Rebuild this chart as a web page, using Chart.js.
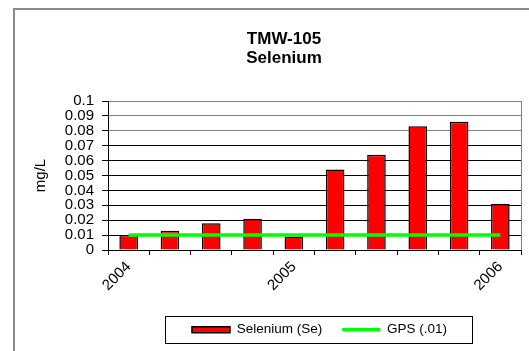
<!DOCTYPE html>
<html><head><meta charset="utf-8">
<script src="https://cdn.jsdelivr.net/npm/chart.js@4/dist/chart.umd.min.js"></script>
<style>
html,body{margin:0;padding:0;background:#fff;overflow:hidden;}
#wrap{position:relative;width:529px;height:351px;overflow:hidden;}
#frame{position:absolute;left:13px;top:8px;width:600px;height:400px;border:2px solid #8a8a8a;box-sizing:border-box;}
canvas{position:absolute;left:0;top:0;}
</style></head><body>
<div id="wrap"><div id="frame"></div><canvas id="c" width="529" height="351"></canvas></div>
<script>
const titleLines = ['TMW-105', 'Selenium'];
const categories = ['2004', '', '', '', '2005', '', '', '', '', '2006'];
const seleniumValues = [0.010, 0.013, 0.018, 0.021, 0.009, 0.054, 0.064, 0.083, 0.086, 0.031];
const gpsValues = [0.01, 0.01, 0.01, 0.01, 0.01, 0.01, 0.01, 0.01, 0.01, 0.01];
const seriesNames = ['Selenium (Se)', 'GPS (.01)'];
const yTickLabels = ['0', '0.01', '0.02', '0.03', '0.04', '0.05', '0.06', '0.07', '0.08', '0.09', '0.1'];
const yAxisTitle = 'mg/L';

Chart.defaults.font.family = "'Liberation Sans', Arial, sans-serif";
Chart.defaults.color = '#000';

const tweaks = {
  id: 'tweaks',
  beforeLayout(chart) {
    const lg = chart.legend;
    if (lg && !lg._patched) {
      const orig = lg.fit.bind(lg);
      lg.fit = function () { orig(); this.height = 48; };
      lg._patched = true;
    }
  },
  afterLayout(chart) {
    const lg = chart.legend;
    const sL = 319.5 - (lg.left + lg.right) / 2;
    lg.left += sL; lg.right += sL;
    const t = chart.titleBlock;
    const sT = 284 - (t.left + t.right) / 2;
    t.left += sT; t.right += sT;
  },
  beforeDatasetsDraw(chart) {
    const {ctx, chartArea: a} = chart;
    ctx.save();
    ctx.strokeStyle = '#808080';
    ctx.lineWidth = 1;
    ctx.beginPath();
    ctx.moveTo(Math.round(a.right) + 0.5, a.top);
    ctx.lineTo(Math.round(a.right) + 0.5, a.bottom);
    ctx.stroke();
    ctx.restore();
  },
  afterDraw(chart) {
    const lg = chart.legend;
    const hb = lg.legendHitBoxes;
    if (!hb || !hb.length) return;
    const first = hb[0], last = hb[hb.length - 1];
    const cy = first.top + first.height / 2;
    const x0 = Math.round(first.left - 27) + 0.5;
    const x1 = Math.round(last.left + last.width + 25) + 0.5;
    const y0 = Math.round(cy - 14) + 0.5;
    const y1 = Math.round(cy + 13) + 0.5;
    const ctx = chart.ctx;
    ctx.save();
    ctx.strokeStyle = '#000';
    ctx.lineWidth = 1;
    ctx.strokeRect(x0, y0, x1 - x0, y1 - y0);
    ctx.restore();
  }
};

new Chart(document.getElementById('c'), {
  data: {
    labels: categories,
    datasets: [
      {
        type: 'bar',
        label: seriesNames[0],
        data: seleniumValues,
        backgroundColor: '#ff0000',
        borderColor: '#000000',
        borderWidth: 1.5,
        barPercentage: 1,
        categoryPercentage: 0.45,
        pointStyle: 'rect',
        order: 1
      },
      {
        type: 'line',
        label: seriesNames[1],
        data: gpsValues,
        borderColor: '#00ff00',
        backgroundColor: '#00ff00',
        borderWidth: 3.5,
        pointRadius: 0,
        pointStyle: 'line',
        tension: 0,
        order: 0
      }
    ]
  },
  options: {
    responsive: false,
    animation: false,
    devicePixelRatio: 1,
    layout: {padding: {left: 14, right: 8, top: 0, bottom: 0}},
    plugins: {
      tooltip: {enabled: false},
      title: {
        display: true,
        text: titleLines,
        font: {size: 17, weight: 'bold', lineHeight: 1.1},
        color: '#000',
        padding: {top: 30, bottom: 33.6}
      },
      legend: {
        position: 'bottom',
        labels: {
          usePointStyle: true,
          pointStyleWidth: 38,
          boxHeight: 6,
          padding: 20,
          font: {size: 13.5},
          color: '#000',
          sort: (a, b) => a.datasetIndex - b.datasetIndex
        }
      }
    },
    scales: {
      x: {
        type: 'category',
        offset: true,
        grid: {offset: true, drawOnChartArea: false, tickLength: 5, color: '#000', tickColor: '#000'},
        border: {color: '#000', width: 1},
        ticks: {autoSkip: false, maxRotation: 45, minRotation: 45, font: {size: 15}, padding: 3},
        afterFit: (s) => { s.height = 53; }
      },
      y: {
        min: 0,
        max: 0.1,
        grid: {
          color: (c) => (c.index >= 8 ? '#808080' : '#000000'),
          tickColor: '#000',
          tickLength: 6,
          lineWidth: 1
        },
        border: {color: '#000', width: 1},
        ticks: {
          stepSize: 0.01,
          autoSkip: false,
          font: {size: 15},
          padding: 8,
          callback: (v) => yTickLabels[Math.round(v * 100)]
        },
        title: {display: true, text: yAxisTitle, font: {size: 15}, padding: {top: 18, bottom: 0}},
        afterFit: (s) => { s.width = 94; }
      }
    }
  },
  plugins: [tweaks]
});
</script>
</body></html>
